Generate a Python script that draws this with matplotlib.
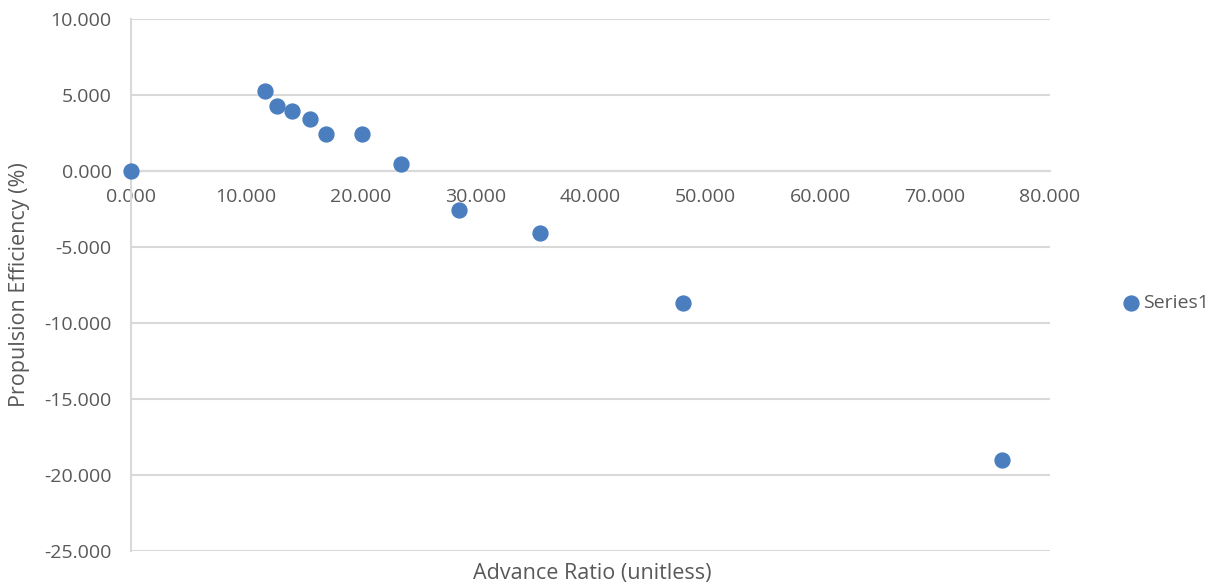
import matplotlib.pyplot as plt
import numpy as np

# values
advance_ratio = [0.0, 11.68, 12.70, 14.04, 15.55, 16.97, 20.08, 23.51, 28.54, 35.6, 48.04, 75.82]
efficiency = [0.0, 5.24, 4.25, 3.95, 3.42, 2.43, 2.41, 0.46, -2.59, -4.10, -8.71, -19.0]
x_ticks = np.arange(0, 81, 10)
y_ticks = np.arange(-25, 11, 5)

text_color = "#595959"
grid_color = "#d9d9d9"
marker_color = "#4a7ebf"


def main():
    plt.rcParams["font.family"] = ["Open Sans", "DejaVu Sans"]
    fig = plt.figure(figsize=(12.18, 5.86), dpi=100)
    ax = fig.add_axes([131 / 1218, 1 - 551 / 586, 919 / 1218, 532 / 586])

    ax.scatter(advance_ratio, efficiency, s=115, color=marker_color,
               zorder=3, clip_on=False, label="Series1")

    ax.set_xlim(0, 80)
    ax.set_ylim(-25, 10)
    ax.set_xticks(x_ticks)
    ax.set_yticks(y_ticks)
    ax.set_xticklabels([f"{v:.3f}" for v in x_ticks])
    ax.set_yticklabels([f"{v:.3f}" for v in y_ticks])

    # horizontal gridlines only, axis crossing at zero
    ax.yaxis.grid(True, color=grid_color, linewidth=1.5)
    ax.set_axisbelow(True)
    for side in ["top", "right"]:
        ax.spines[side].set_visible(False)
    ax.spines["bottom"].set_position(("data", 0))
    ax.spines["bottom"].set_color(grid_color)
    ax.spines["bottom"].set_linewidth(1.5)
    ax.spines["left"].set_color(grid_color)
    ax.spines["left"].set_linewidth(1.5)
    ax.tick_params(axis="both", length=0, labelsize=14, colors=text_color)
    ax.tick_params(axis="x", pad=12)
    ax.tick_params(axis="y", pad=14)

    fig.text(592 / 1218, 1 - 573 / 586, "Advance Ratio (unitless)",
             ha="center", va="center", fontsize=15.5, color=text_color)
    fig.text(20 / 1218, 1 - 285 / 586, "Propulsion Efficiency (%)",
             ha="center", va="center", rotation=90, fontsize=15.5, color=text_color)

    leg = fig.legend(loc="center left", bbox_to_anchor=(1112 / 1218, 1 - 303 / 586),
                     frameon=False, fontsize=14, handletextpad=0.0,
                     handlelength=1.2, borderaxespad=0)
    for t in leg.get_texts():
        t.set_color(text_color)

    plt.savefig("out.png", dpi=100)
    plt.close()


if __name__ == "__main__":
    main()
